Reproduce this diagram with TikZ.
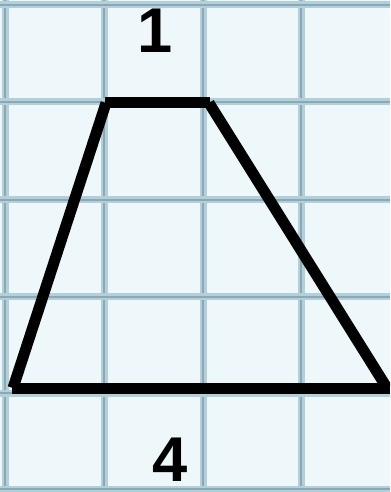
\documentclass[tikz,border=0pt]{standalone}
\usepackage{fontspec}
\setmainfont{Liberation Sans}
\definecolor{paper}{HTML}{EEF8FB}
\definecolor{gridline}{HTML}{B3CFDA}
\definecolor{gridcore}{HTML}{8AA8B6}

\begin{document}
\begin{tikzpicture}[x=1cm,y=-1cm,
    cell/.style={line width=.7mm,gridline},
    cellcore/.style={line width=.15mm,gridcore},
    side/.style={line width=1.1mm,black,line cap=butt},
    len/.style={font=\fontsize{18}{18}\selectfont\bfseries,inner sep=0pt}]
  \clip (0,0) rectangle (3.9,4.92);
  \fill[paper] (0,0) rectangle (3.9,4.92);
  % squared paper
  \foreach \x in {.05,1.04,2.03,3.01}
    {\draw[cell] (\x,0) -- +(0,4.92);
     \draw[cellcore] (\x,0) -- +(0,4.92);}
  \foreach \y in {.05,1.02,2.0,2.97,3.93,4.89}
    {\draw[cell] (0,\y) -- +(3.9,0);
     \draw[cellcore] (0,\y) -- +(3.9,0);}
  %
  \coordinate (bl) at (.13,3.88);
  \coordinate (tl) at (1.06,1.03);
  \coordinate (tr) at (2.09,1.03);
  \coordinate (br) at (3.87,3.88);
  \draw[side] (bl) -- (tl);
  \draw[side] (1.05,1.03) -- (2.10,1.03);
  \draw[side] (tr) -- (br);
  \draw[side] (.12,3.88) -- (3.9,3.88);
  %
  \node[len] (top) at (1.55,.31) {1};
  \node[len] (bottom) at (1.70,4.60) {4};
\end{tikzpicture}
\end{document}
